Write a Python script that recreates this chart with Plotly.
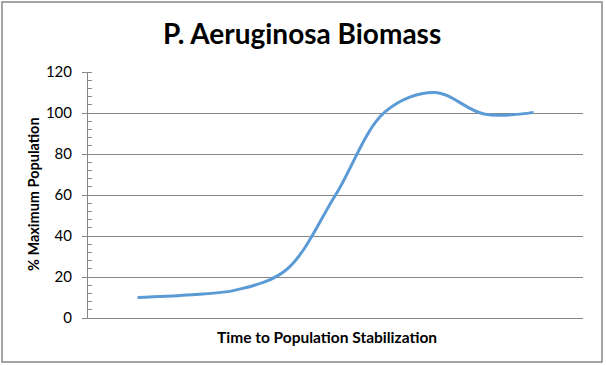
import plotly.graph_objects as go

# Data
time_steps = [1, 2, 3, 4, 5, 6, 7, 8, 9]
biomass_pct = [10, 11.2, 13.7, 23.4, 60, 100.5, 110, 99.5, 100.3]
y_ticks = [0, 20, 40, 60, 80, 100, 120]

title_text = "P. Aeruginosa Biomass"
x_title = "Time to Population Stabilization"
y_title = "% Maximum Population"

W, H = 606, 365
L, R, T, B = 88, 23, 72, 47
PW, PH = W - L - R, H - T - B


def px_x(p):
    return (p - L) / PW


def px_y(p):
    return (H - B - p) / PH


GRID = "#878787"
FONT = "Lato"

fig = go.Figure()
fig.add_trace(go.Scatter(
    x=time_steps, y=biomass_pct, mode="lines",
    line=dict(color="#5B9BD5", width=3, shape="spline", smoothing=1.0),
    showlegend=False, hoverinfo="skip",
))

fig.update_layout(
    width=W, height=H,
    margin=dict(l=L, r=R, t=T, b=B, pad=0),
    paper_bgcolor="white", plot_bgcolor="white",
    font=dict(family=FONT, color="#000000"),
    xaxis=dict(range=[0, 10], showticklabels=False, ticks="", showgrid=False,
               zeroline=False, showline=True, linecolor=GRID, linewidth=1,
               fixedrange=True),
    yaxis=dict(range=[0, 120], tickvals=y_ticks, ticks="outside", ticklen=5,
               tickcolor=GRID, tickwidth=1, showgrid=True, gridcolor=GRID,
               gridwidth=1, zeroline=False, showline=True, linecolor=GRID,
               linewidth=1, tickfont=dict(family=FONT, size=15, color="#000"),
               ticklabelstandoff=7,
               minor=dict(dtick=4, ticks="inside", ticklen=4, tickcolor=GRID,
                          tickwidth=1, showgrid=False),
               fixedrange=True),
    shapes=[dict(type="rect", xref="paper", yref="paper",
                 x0=px_x(2), x1=px_x(602), y0=px_y(362), y1=px_y(2),
                 line=dict(color="#888888", width=1.5), fillcolor="rgba(0,0,0,0)",
                 layer="below")],
    annotations=[
        dict(text="<b>" + title_text + "</b>", xref="paper", yref="paper",
             x=px_x(302), y=px_y(33), xanchor="center", yanchor="middle",
             showarrow=False, font=dict(family=FONT, size=28, color="#000")),
        dict(text="<b>" + y_title + "</b>", xref="paper", yref="paper",
             x=px_x(33), y=px_y(194), xanchor="center", yanchor="middle",
             textangle=-90, showarrow=False,
             font=dict(family=FONT, size=14.5, color="#000")),
        dict(text="<b>" + x_title + "</b>", xref="paper", yref="paper",
             x=px_x(327), y=px_y(337), xanchor="center", yanchor="middle",
             showarrow=False, font=dict(family=FONT, size=15.5, color="#000")),
    ],
)

fig.write_html("out.html",
               config={"displayModeBar": False, "staticPlot": True},
               post_script="document.body.style.margin='0';"
                           "document.body.style.overflow='hidden';")
